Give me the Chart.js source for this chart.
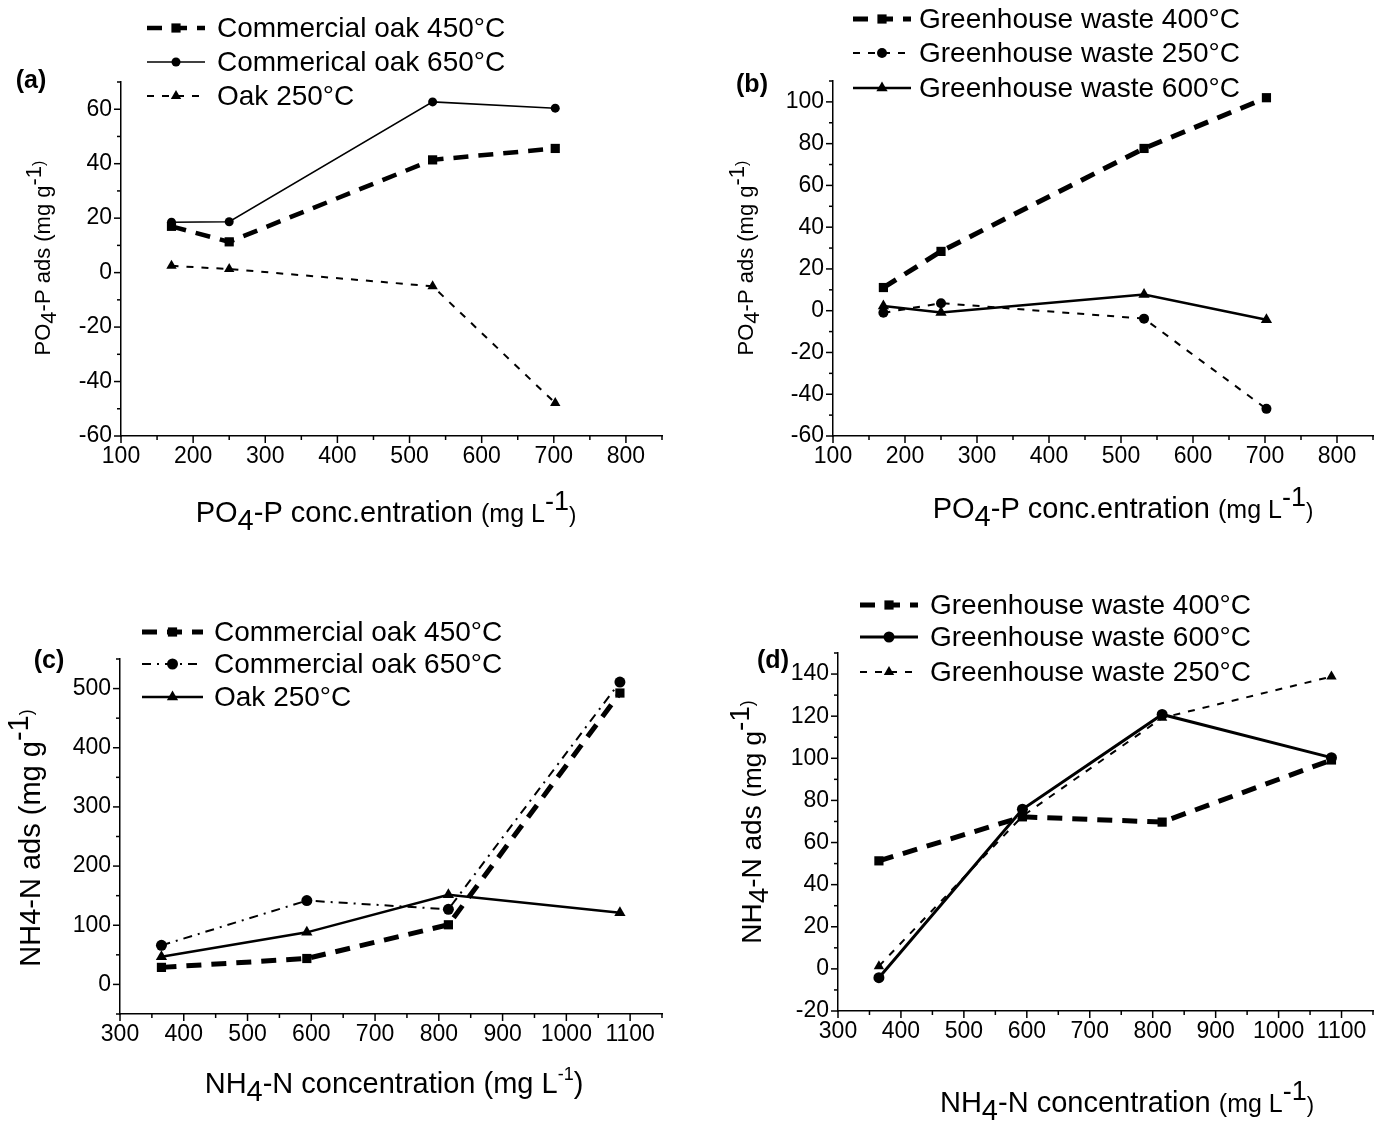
<!DOCTYPE html>
<html>
<head>
<meta charset="utf-8">
<script src="https://cdn.jsdelivr.net/npm/chart.js@4.4.1/dist/chart.umd.min.js"></script>
<style>
  body { margin: 0; background: #fff; }
  #wrap { position: relative; width: 1380px; height: 1124px; overflow: hidden; background: #fff; }
  canvas { position: absolute; }
</style>
</head>
<body>
<div id="wrap">
  <canvas id="chartA" width="690" height="560" style="left:0;top:0"></canvas>
  <canvas id="chartB" width="690" height="560" style="left:690px;top:0"></canvas>
  <canvas id="chartC" width="690" height="564" style="left:0;top:560px"></canvas>
  <canvas id="chartD" width="690" height="564" style="left:690px;top:560px"></canvas>
</div>
<script>
// concentrations (x values)
const xPO4 = [170, 250, 532, 702];
const xNH4 = [365, 593, 815, 1084];

// (a) PO4-P adsorption, oak biochars
const aCommercial450 = [17, 11.3, 41.4, 45.6];
const aCommercial650 = [18.5, 18.7, 62.7, 60.4];
const aOak250 = [2.5, 1.3, -5, -47.9];

// (b) PO4-P adsorption, greenhouse waste biochars
const bGreen400 = [11.1, 28.4, 77.7, 102];
const bGreen250 = [-1, 3.6, -3.8, -47];
const bGreen600 = [2.3, -0.8, 7.8, -4.3];

// (c) NH4-N adsorption, oak biochars
const cCommercial450 = [28.8, 43.8, 100.8, 492.5];
const cCommercial650 = [66, 141.7, 127, 511];
const cOak250 = [46.7, 88, 151.5, 121];

// (d) NH4-N adsorption, greenhouse waste biochars
const dGreen400 = [51.3, 72.2, 69.7, 99.2];
const dGreen600 = [-4.2, 75.8, 120.8, 100.3];
const dGreen250 = [1.3, 72.5, 119.2, 138.8];

// series names
const namesA = ['Commercial oak 450°C', 'Commerical oak 650°C', 'Oak 250°C'];
const namesB = ['Greenhouse waste 400°C', 'Greenhouse waste 250°C', 'Greenhouse waste 600°C'];
const namesC = ['Commercial oak 450°C', 'Commercial oak 650°C', 'Oak 250°C'];
const namesD = ['Greenhouse waste 400°C', 'Greenhouse waste 600°C', 'Greenhouse waste 250°C'];

// axis ranges: [min, max, minor step, labelled step]
const xRangePO4 = [100, 850, 50, 100];
const xRangeNH4 = [300, 1150, 50, 100];
const yRangeA = [-60, 70, 10, 20];
const yRangeB = [-60, 110, 10, 20];
const yRangeC = [-50, 550, 50, 100];
const yRangeD = [-20, 150, 10, 20];

const FONT = "'Liberation Sans', Arial, sans-serif";

// line looks
const thickDash = { borderWidth: 5, borderDash: [15, 10], pointStyle: 'rect', pointRadius: 6.5 };
const thinDash = { borderWidth: 2, borderDash: [7, 8] };
const dashDot = { borderWidth: 2, borderDash: [9, 6, 2, 6] };

function series(label, xs, ys, style) {
    return Object.assign({
        label: label,
        data: xs.map((x, i) => ({ x: x, y: ys[i] })),
        borderColor: '#000',
        backgroundColor: '#000',
        pointBackgroundColor: '#000',
        pointBorderColor: '#000',
        pointBorderWidth: 0,
        fill: false,
        tension: 0
    }, style);
}

function axis(dir, r, size) {
    return {
        type: 'linear',
        min: r[0],
        max: r[1],
        grid: { display: false, drawTicks: false },
        border: { display: true, color: '#000', width: 1.5 },
        ticks: {
            stepSize: r[2],
            autoSkip: false,
            maxRotation: 0,
            color: '#000',
            padding: dir === 'x' ? 7 : 9,
            font: { family: FONT, size: 23 },
            callback: function (v) {
                const n = Math.round(v);
                return n % r[3] === 0 ? String(n) : '';
            }
        },
        afterFit: function (s) {
            if (dir === 'x') s.height = size; else s.width = size;
        }
    };
}

// panel decorations: tag, legend, axis titles (canvas coordinates)
const deco = {
    chartA: {
        tag: ['(a)', 31, 81],
        legend: { x1: 147, x2: 205, tx: 217, rows: [28, 62, 96] },
        xTitle: { x: 386, y: 522, rot: false, segs: [['PO', 29], ['4', 29, 8], ['-P conc.entration ', 29], ['(mg L', 25], ['-1', 27, -12], [')', 22]] },
        yTitle: { x: 50, y: 258, rot: true, segs: [['PO', 22], ['4', 22, 6], ['-P ads (mg g', 22], ['-1', 22, -9], [')', 16, -6]] }
    },
    chartB: {
        tag: ['(b)', 62, 85],
        legend: { x1: 163, x2: 221, tx: 229, rows: [19, 53, 88] },
        xTitle: { x: 433, y: 518, rot: false, segs: [['PO', 29], ['4', 29, 8], ['-P conc.entration ', 29], ['(mg L', 25], ['-1', 27, -12], [')', 22]] },
        yTitle: { x: 63, y: 258, rot: true, segs: [['PO', 22], ['4', 22, 6], ['-P ads (mg g', 22], ['-1', 22, -9], [')', 16, -6]] }
    },
    chartC: {
        tag: ['(c)', 49, 101],
        legend: { x1: 142, x2: 203, tx: 214, rows: [72, 104, 137] },
        xTitle: { x: 394, y: 533, rot: false, segs: [['NH', 29], ['4', 29, 8], ['-N concentration (mg L', 29], ['-1', 18, -13], [')', 29]] },
        yTitle: { x: 40, y: 278, rot: true, segs: [['NH4-N ads (mg g', 29], ['-1', 29, -12], [')', 18, -8]] }
    },
    chartD: {
        tag: ['(d)', 83, 101],
        legend: { x1: 170, x2: 228, tx: 240, rows: [45, 77, 112] },
        xTitle: { x: 437, y: 552, rot: false, segs: [['NH', 29], ['4', 29, 8], ['-N concentration ', 29], ['(mg L', 25], ['-1', 27, -12], [')', 22]] },
        yTitle: { x: 71, y: 262, rot: true, segs: [['NH', 28], ['4', 28, 7], ['-N ads ', 28], ['(mg g', 26], ['-1', 28, -12], [')', 18, -8]] }
    }
};

function drawRich(ctx, t) {
    ctx.save();
    ctx.translate(t.x, t.y);
    if (t.rot) ctx.rotate(-Math.PI / 2);
    let total = 0;
    const w = t.segs.map(s => {
        ctx.font = s[1] + 'px ' + FONT;
        const m = ctx.measureText(s[0]).width;
        total += m;
        return m;
    });
    let x = -total / 2;
    ctx.fillStyle = '#000';
    ctx.textBaseline = 'alphabetic';
    ctx.textAlign = 'left';
    t.segs.forEach((s, i) => {
        ctx.font = s[1] + 'px ' + FONT;
        ctx.fillText(s[0], x, s[2] || 0);
        x += w[i];
    });
    ctx.restore();
}

function marker(ctx, style, r, x, y) {
    ctx.beginPath();
    if (style === 'rect') {
        const h = r * Math.SQRT1_2;
        ctx.rect(x - h, y - h, 2 * h, 2 * h);
    } else if (style === 'triangle') {
        for (let k = 0; k < 3; k++) {
            const a = k * 2 * Math.PI / 3;
            const px = x + Math.sin(a) * r, py = y - Math.cos(a) * r;
            if (k === 0) ctx.moveTo(px, py); else ctx.lineTo(px, py);
        }
        ctx.closePath();
    } else {
        ctx.arc(x, y, r, 0, 2 * Math.PI);
    }
    ctx.fill();
}

const decoPlugin = {
    id: 'deco',
    afterDraw: function (chart) {
        const d = deco[chart.canvas.id];
        const ctx = chart.ctx;
        const xs = chart.scales.x, ys = chart.scales.y;
        ctx.save();
        ctx.strokeStyle = '#000';
        ctx.fillStyle = '#000';
        ctx.lineWidth = 1.5;
        // outward tick marks, short for minor ones
        xs.ticks.forEach(t => {
            const px = xs.getPixelForValue(t.value);
            const len = t.label === '' ? 4 : 7;
            ctx.beginPath(); ctx.moveTo(px, xs.top); ctx.lineTo(px, xs.top + len); ctx.stroke();
        });
        ys.ticks.forEach(t => {
            const py = ys.getPixelForValue(t.value);
            const len = t.label === '' ? 4 : 7;
            ctx.beginPath(); ctx.moveTo(ys.right, py); ctx.lineTo(ys.right - len, py); ctx.stroke();
        });

        // legend
        const lg = d.legend;
        chart.data.datasets.forEach((ds, i) => {
            const y = lg.rows[i];
            ctx.lineWidth = ds.borderWidth;
            ctx.setLineDash(ds.borderDash || []);
            ctx.beginPath(); ctx.moveTo(lg.x1, y); ctx.lineTo(lg.x2, y); ctx.stroke();
            ctx.setLineDash([]);
            marker(ctx, ds.pointStyle, ds.pointRadius, (lg.x1 + lg.x2) / 2, y);
            ctx.font = '28px ' + FONT;
            ctx.textAlign = 'left';
            ctx.textBaseline = 'middle';
            ctx.fillText(ds.label, lg.tx, y + 1);
        });

        // panel tag
        ctx.font = 'bold 25px ' + FONT;
        ctx.textAlign = 'center';
        ctx.textBaseline = 'middle';
        ctx.fillText(d.tag[0], d.tag[1], d.tag[2]);
        ctx.restore();

        drawRich(ctx, d.xTitle);
        drawRich(ctx, d.yTitle);
    }
};

function makePanel(id, datasets, xr, yr, box) {
    const cv = document.getElementById(id);
    new Chart(cv, {
        type: 'line',
        data: { datasets: datasets },
        options: {
            responsive: false,
            animation: false,
            events: [],
            layout: { padding: { left: 0, top: box.top, right: cv.width - box.right, bottom: 0 } },
            plugins: { legend: { display: false }, tooltip: { enabled: false } },
            scales: {
                x: axis('x', xr, cv.height - box.bottom),
                y: axis('y', yr, box.left)
            }
        },
        plugins: [decoPlugin]
    });
}

makePanel('chartA', [
    series(namesA[0], xPO4, aCommercial450, Object.assign({}, thickDash, { borderWidth: 4.5 })),
    series(namesA[1], xPO4, aCommercial650, { borderWidth: 1.5, pointStyle: 'circle', pointRadius: 4.5 }),
    series(namesA[2], xPO4, aOak250, Object.assign({}, thinDash, { pointStyle: 'triangle', pointRadius: 6 }))
], xRangePO4, yRangeA, { left: 121, right: 662, top: 82, bottom: 436 });

makePanel('chartB', [
    series(namesB[0], xPO4, bGreen400, thickDash),
    series(namesB[1], xPO4, bGreen250, Object.assign({}, thinDash, { pointStyle: 'circle', pointRadius: 5 })),
    series(namesB[2], xPO4, bGreen600, { borderWidth: 2.5, pointStyle: 'triangle', pointRadius: 6.5 })
], xRangePO4, yRangeB, { left: 143, right: 685, top: 81, bottom: 436 });

makePanel('chartC', [
    series(namesC[0], xNH4, cCommercial450, thickDash),
    series(namesC[1], xNH4, cCommercial650, Object.assign({}, dashDot, { pointStyle: 'circle', pointRadius: 5.5 })),
    series(namesC[2], xNH4, cOak250, { borderWidth: 2.5, pointStyle: 'triangle', pointRadius: 6.5 })
], xRangeNH4, yRangeC, { left: 120, right: 662, top: 99, bottom: 454 });

makePanel('chartD', [
    series(namesD[0], xNH4, dGreen400, thickDash),
    series(namesD[1], xNH4, dGreen600, { borderWidth: 3, pointStyle: 'circle', pointRadius: 5.5 }),
    series(namesD[2], xNH4, dGreen250, Object.assign({}, thinDash, { pointStyle: 'triangle', pointRadius: 6 }))
], xRangeNH4, yRangeD, { left: 148, right: 690, top: 93, bottom: 451 });
</script>
</body>
</html>
